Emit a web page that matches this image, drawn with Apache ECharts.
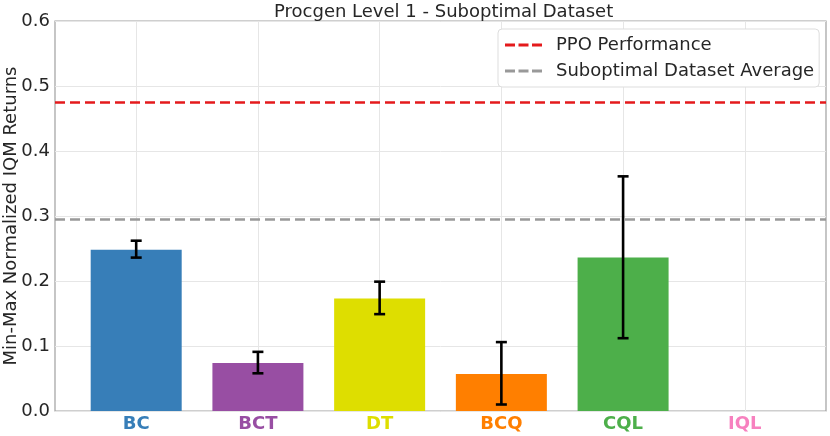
<!DOCTYPE html>
<html>
<head>
<meta charset="utf-8">
<script src="https://cdn.jsdelivr.net/npm/echarts@6/dist/echarts.min.js"></script>
<style>
  html, body { margin: 0; padding: 0; background: #fff; }
  #main { width: 830px; height: 436px; }
</style>
</head>
<body>
<div id="main"></div>
<script>
const categories = ["BC", "BCT", "DT", "BCQ", "CQL", "IQL"];
const barColors = ["#377eb8", "#984ea3", "#dede00", "#ff7f00", "#4daf4a", "#f781bf"];
const iqmValues = [0.248, 0.074, 0.173, 0.057, 0.236, 0.0];
const errLow = [0.236, 0.058, 0.149, 0.010, 0.112, 0.0];
const errHigh = [0.262, 0.091, 0.199, 0.106, 0.361, 0.0];
const ppoLevel = 0.475;
const datasetAverage = 0.295;
const yTicks = [0, 0.1, 0.2, 0.3, 0.4, 0.5, 0.6];

document.addEventListener("DOMContentLoaded", function () {
  const myChart = echarts.init(document.getElementById("main"));
  const font = "DejaVu Sans";

  const rich = {};
  categories.forEach((c, i) => {
    rich["c" + i] = { color: barColors[i], fontWeight: "bold", fontSize: 18, fontFamily: font };
  });

  const dashIcon = "path://M0,0h10v3h-10z M13.5,0h10v3h-10z M27,0h10v3h-10z";

  const option = {
    animation: false,
    backgroundColor: "#fff",
    textStyle: { fontFamily: font },
    title: {
      text: "Procgen Level 1 - Suboptimal Dataset",
      left: 274,
      top: 3,
      padding: 0,
      textStyle: { fontSize: 18, fontWeight: "normal", color: "#262626", fontFamily: font },
    },
    legend: {
      orient: "vertical",
      left: 498,
      top: 29,
      padding: [7, 5, 7, 7],
      itemGap: 8,
      itemWidth: 37,
      itemHeight: 3,
      backgroundColor: "#fff",
      borderColor: "#dddddd",
      borderWidth: 1,
      borderRadius: 4,
      textStyle: { fontSize: 18, color: "#262626", fontFamily: font, padding: [0, 0, 0, 9] },
      data: [
        { name: "PPO Performance", icon: dashIcon, itemStyle: { color: "#e41a1c" } },
        { name: "Suboptimal Dataset Average", icon: dashIcon, itemStyle: { color: "#999999" } },
      ],
    },
    grid: {
      left: 55,
      right: 4,
      top: 21,
      bottom: 25,
      containLabel: false,
      outerBoundsMode: "none",
      show: true,
      borderColor: "#a0a0a0",
      borderWidth: 1.2,
      backgroundColor: "transparent",
    },
    xAxis: {
      type: "value",
      min: -0.667,
      max: 5.667,
      splitLine: { show: false },
      axisLine: { show: false },
      axisTick: { show: false },
      axisLabel: {
        customValues: [0, 1, 2, 3, 4, 5],
        margin: 4,
        formatter: (v) => "{c" + Math.round(v) + "|" + categories[Math.round(v)] + "}",
        rich: rich,
      },
    },
    yAxis: {
      type: "value",
      min: 0,
      max: 0.6,
      interval: 0.1,
      name: "Min-Max Normalized IQM Returns",
      nameLocation: "middle",
      nameGap: 35,
      nameMoveOverlap: false,
      nameTextStyle: { fontSize: 18, color: "#262626", fontFamily: font },
      axisLine: { show: false },
      axisTick: { show: false },
      axisLabel: {
        fontSize: 18,
        color: "#262626",
        margin: 5,
        fontFamily: font,
        formatter: (v) => v.toFixed(1),
      },
      splitLine: { lineStyle: { color: "#e6e6e6", width: 1 } },
    },
    series: [
      {
        name: "xgrid",
        type: "line",
        data: [],
        z: 1,
        markLine: {
          silent: true,
          z: 1,
          symbol: "none",
          label: { show: false },
          lineStyle: { color: "#e6e6e6", type: "solid", width: 1 },
          data: categories.map((c, i) => ({ xAxis: i })),
        },
      },
      {
        name: "bars",
        type: "bar",
        z: 2,
        barWidth: 91,
        data: iqmValues.map((v, i) => ({ value: [i, v], itemStyle: { color: barColors[i] } })),
      },
      {
        name: "errors",
        type: "custom",
        z: 6,
        data: categories.map((c, i) => [i, errLow[i], errHigh[i]]),
        renderItem: function (params, api) {
          if (api.value(2) - api.value(1) <= 0) return null;
          const lo = api.coord([api.value(0), api.value(1)]);
          const hi = api.coord([api.value(0), api.value(2)]);
          const cap = 5.5;
          const style = { stroke: "#000", lineWidth: 2.6 };
          return {
            type: "group",
            children: [
              { type: "line", shape: { x1: lo[0], y1: lo[1], x2: hi[0], y2: hi[1] }, style: style },
              { type: "line", shape: { x1: lo[0] - cap, y1: lo[1], x2: lo[0] + cap, y2: lo[1] }, style: style },
              { type: "line", shape: { x1: hi[0] - cap, y1: hi[1], x2: hi[0] + cap, y2: hi[1] }, style: style },
            ],
          };
        },
      },
      {
        name: "PPO Performance",
        type: "line",
        data: [],
        color: "#e41a1c",
        z: 3,
        markLine: {
          silent: true,
          precision: 4,
          symbol: "none",
          label: { show: false },
          lineStyle: { color: "#e41a1c", type: [10, 5], width: 2.6 },
          data: [{ yAxis: ppoLevel }],
        },
      },
      {
        name: "Suboptimal Dataset Average",
        type: "line",
        data: [],
        color: "#999999",
        z: 3,
        markLine: {
          silent: true,
          precision: 4,
          symbol: "none",
          label: { show: false },
          lineStyle: { color: "#999999", type: [10, 5], width: 2.6 },
          data: [{ yAxis: datasetAverage }],
        },
      },
    ],
  };

  myChart.setOption(option);
});
</script>
</body>
</html>
